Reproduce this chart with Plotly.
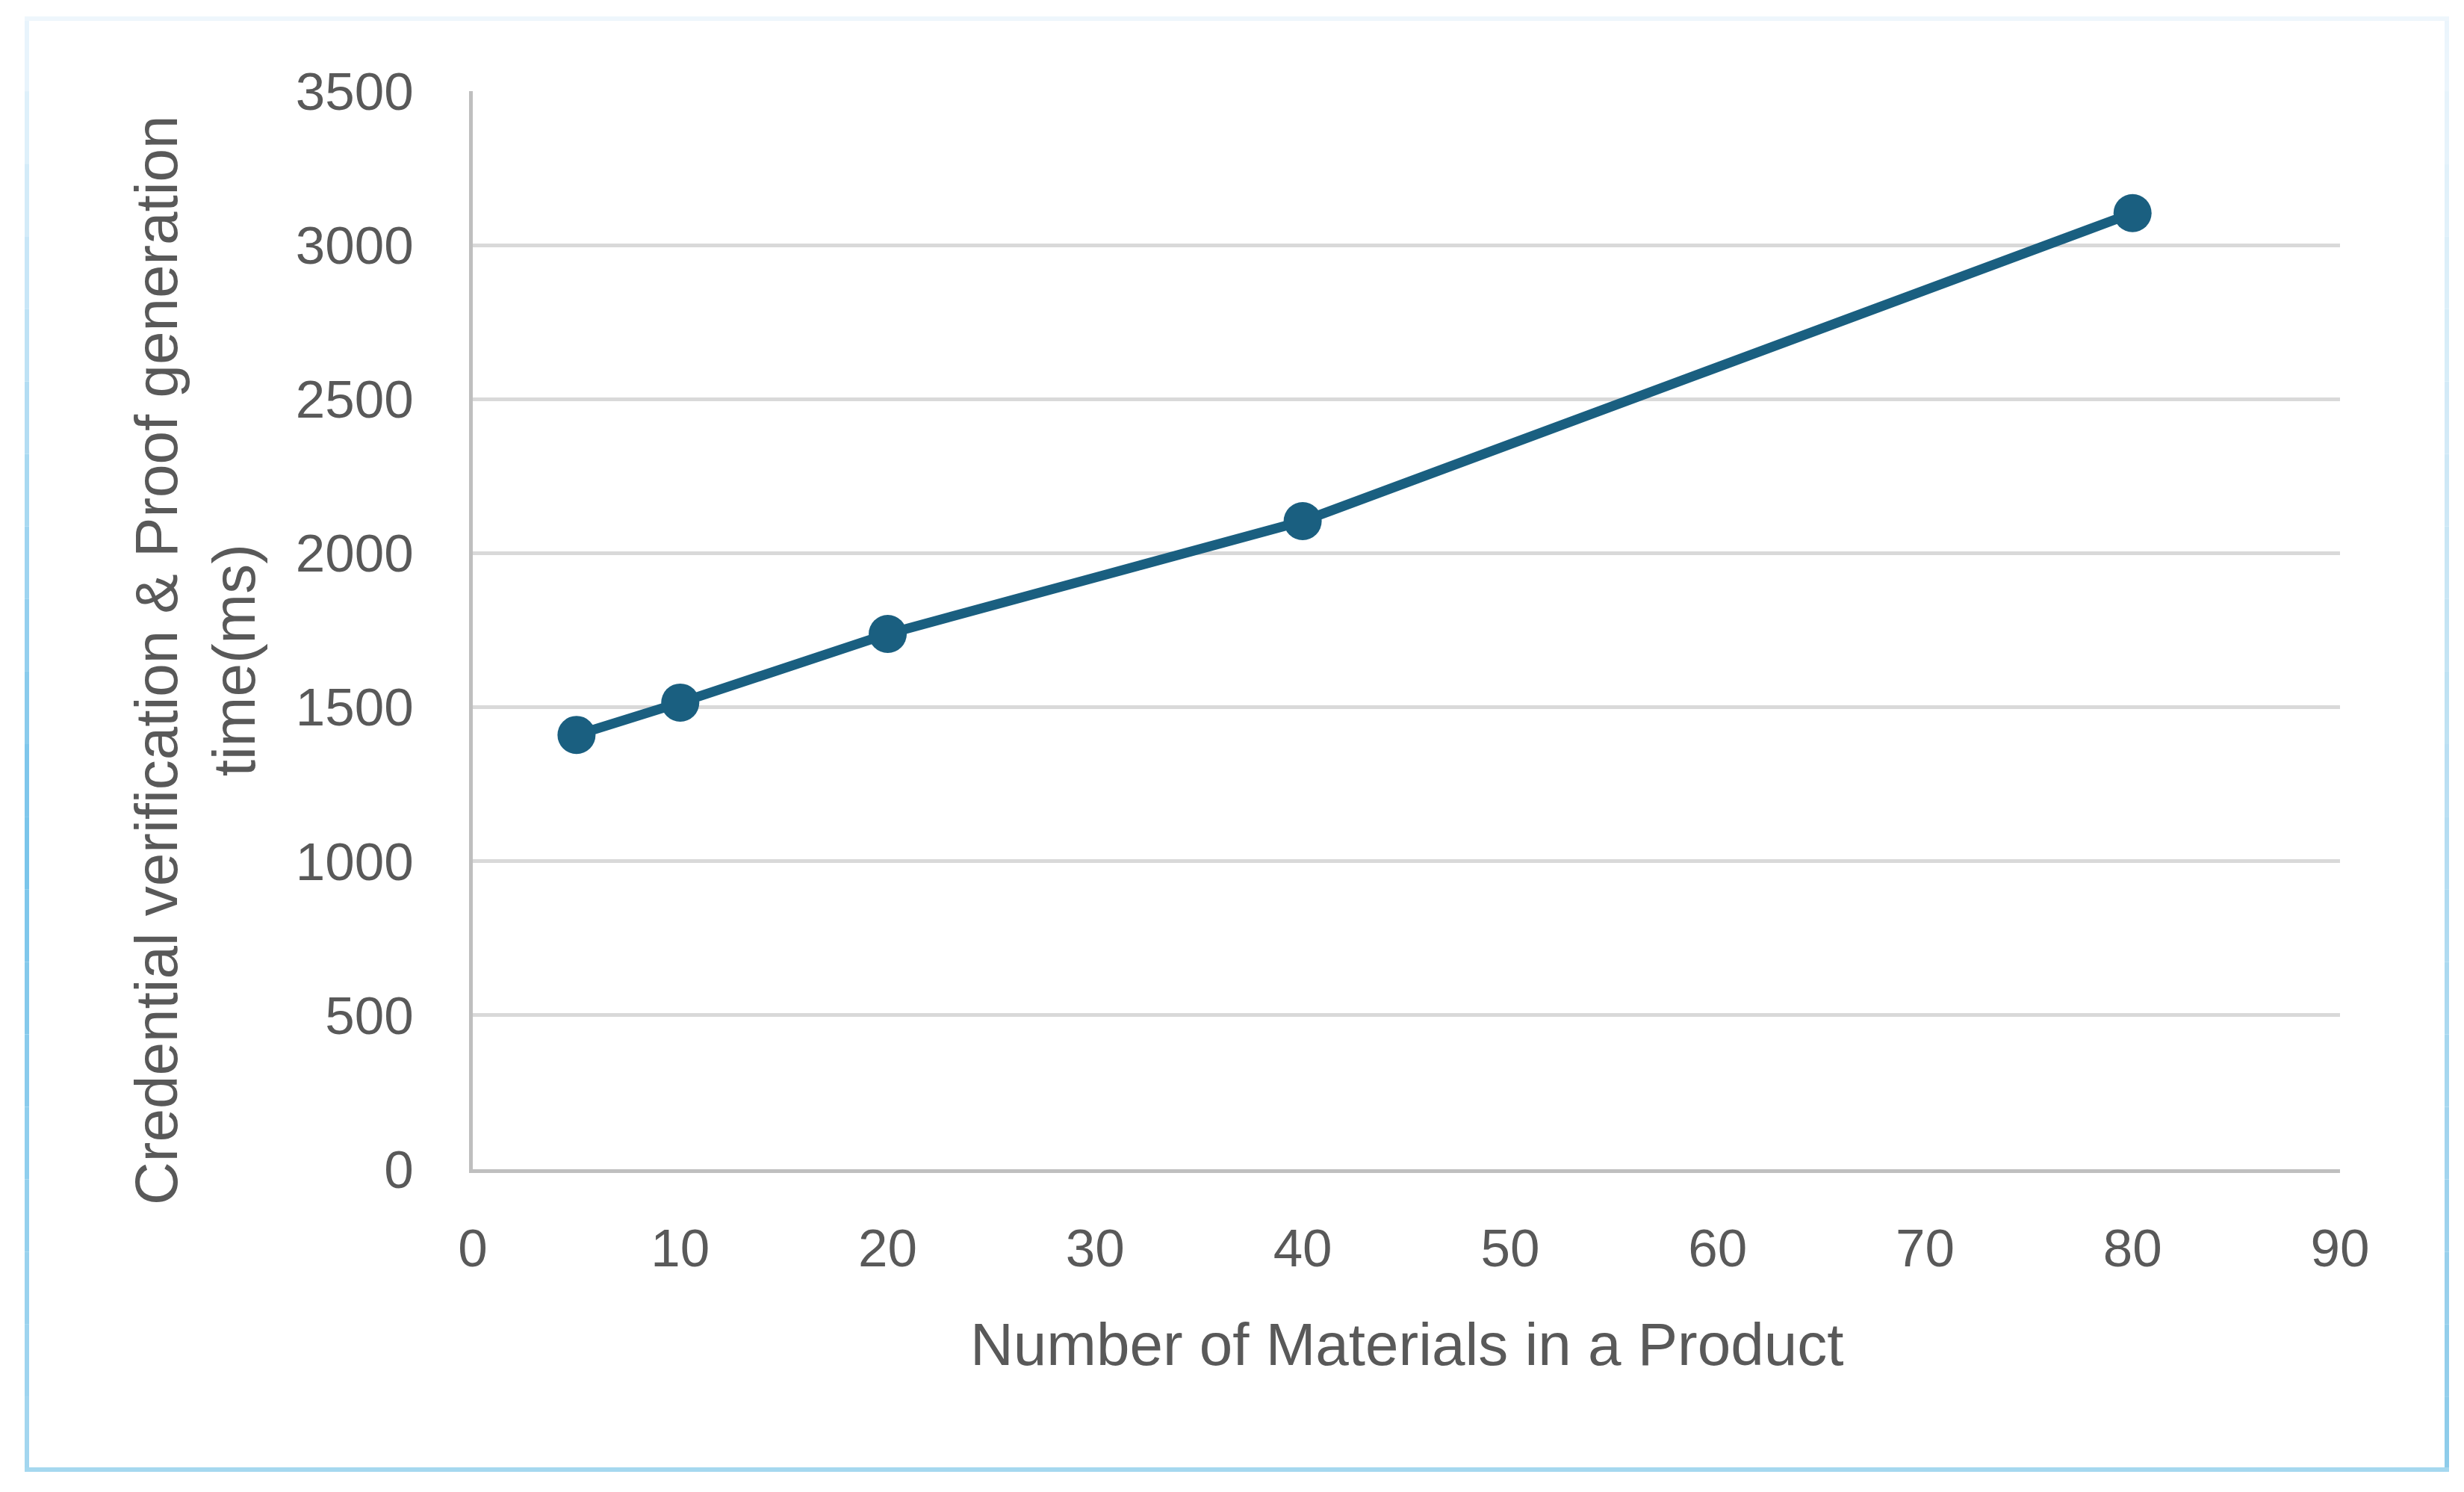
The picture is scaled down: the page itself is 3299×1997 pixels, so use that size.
import plotly.graph_objects as go

# data
materials = [5, 10, 20, 40, 80]
time_ms = [1410, 1515, 1738, 2104, 3104]
y_ticks = [0, 500, 1000, 1500, 2000, 2500, 3000, 3500]
x_ticks = [0, 10, 20, 30, 40, 50, 60, 70, 80, 90]

W, H = 3299, 1997
OFF = 8  # page body margin
L, T = 633 - OFF, 122 - OFF
R, B = W - (3133 - OFF), H - (1565 - OFF)
pw, ph = W - L - R, H - T - B


def px(x):
    return (x - OFF - L) / pw


def py(y):
    return (H - B - (y - OFF)) / ph


fig = go.Figure()
fig.add_trace(go.Scatter(x=materials, y=time_ms, mode="lines+markers",
                         line=dict(color="#1a5f80", width=13),
                         marker=dict(color="#1a5f80", size=51),
                         showlegend=False))

fig.update_xaxes(range=[0, 90], tickvals=x_ticks, showgrid=False,
                 showline=True, linecolor="#bfbfbf", linewidth=5,
                 zeroline=False, ticks="", ticklabelstandoff=40,
                 tickfont=dict(size=71, color="#595959"))
fig.update_yaxes(range=[0, 3500], tickvals=y_ticks, showgrid=True,
                 gridcolor="#d9d9d9", gridwidth=5,
                 showline=True, linecolor="#bfbfbf", linewidth=5,
                 zeroline=False, ticks="", ticklabelstandoff=60,
                 tickfont=dict(size=71, color="#595959"))

# axis titles placed as annotations
fig.add_annotation(text="Number of Materials in a Product", xref="paper", yref="paper",
                   x=0.5, y=py(1799), xanchor="center", yanchor="middle", showarrow=False,
                   font=dict(size=80, color="#595959"))
fig.add_annotation(text="Credential verification & Proof generation<br>time(ms)",
                   xref="paper", yref="paper", x=px(262), y=py(884),
                   xanchor="center", yanchor="middle", textangle=-90, showarrow=False,
                   font=dict(size=80, color="#595959"))

# light blue chart frame, shaded like the original
def mix(c1, c2, t):
    return "#%02x%02x%02x" % tuple(int(a + (b - a) * t) for a, b in zip(c1, c2))


fx0, fx1, fy0, fy1 = 36, 3276, 25, 1967
light = (238, 247, 253)
blue = (120, 196, 234)
soft = (166, 216, 240)
n = 20
for i in range(n):
    a, b = i / n, (i + 1) / n
    t = (a + b) / 2
    ya, yb = fy0 + (fy1 - fy0) * a, fy0 + (fy1 - fy0) * b
    # left side: light at top, strong in middle-low, softer at bottom
    lc = mix(light, blue, min(1, t * 1.8)) if t < 0.55 else mix(blue, soft, (t - 0.55) / 0.45)
    rc = mix(light, (140, 203, 234), t)
    fig.add_shape(type="line", xref="paper", yref="paper", x0=px(fx0), x1=px(fx0),
                  y0=py(ya), y1=py(yb), line=dict(color=lc, width=6))
    fig.add_shape(type="line", xref="paper", yref="paper", x0=px(fx1), x1=px(fx1),
                  y0=py(ya), y1=py(yb), line=dict(color=rc, width=6))
fig.add_shape(type="line", xref="paper", yref="paper", x0=px(fx0 - 3), x1=px(fx1 + 3),
              y0=py(fy0), y1=py(fy0), line=dict(color="#eef6fc", width=6))
fig.add_shape(type="line", xref="paper", yref="paper", x0=px(fx0 - 3), x1=px(fx1 + 3),
              y0=py(fy1), y1=py(fy1), line=dict(color="#a5d8ef", width=6))

fig.update_layout(width=W, height=H, margin=dict(l=L, r=R, t=T, b=B, autoexpand=False),
                  paper_bgcolor="white", plot_bgcolor="white",
                  font=dict(family="Liberation Sans, Arial, sans-serif", color="#595959"))

fig.write_html("out.html")
